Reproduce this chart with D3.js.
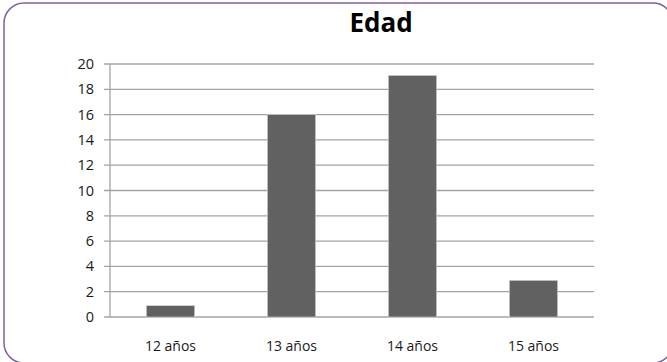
<!DOCTYPE html>
<meta charset="utf-8">
<title>Edad</title>
<script src="https://d3js.org/d3.v7.min.js"></script>
<style>
body { margin: 0; background: #fff; }
text { font-family: "Open Sans", "Noto Sans", sans-serif; fill: #1a1a1a; }
</style>
<body>
<div id="chart"></div>
<script>
// data
var categories = ["12 años", "13 años", "14 años", "15 años"];
var values = [0.9, 16, 19.1, 2.9];
var yTicks = [0, 2, 4, 6, 8, 10, 12, 14, 16, 18, 20];

var W = 667, H = 362;
var margin = {top: 64, right: 73, bottom: 45, left: 110},
    width = W - margin.left - margin.right,
    height = H - margin.top - margin.bottom;

var root = d3.select("#chart").append("svg")
    .attr("width", W)
    .attr("height", H);

// rounded frame, cut off at right and bottom
root.append("rect")
  .attr("x", 4).attr("y", 3)
  .attr("width", 669).attr("height", 360)
  .attr("rx", 20).attr("ry", 20)
  .attr("fill", "none")
  .attr("stroke", "#7d62a0")
  .attr("stroke-width", 1.5);

root.append("text")
  .attr("x", 381).attr("y", 32)
  .attr("text-anchor", "middle")
  .style("font-size", "26px")
  .style("font-weight", "bold")
  .style("fill", "#000")
  .text("Edad");

var svg = root.append("g")
  .attr("transform", "translate(" + margin.left + "," + margin.top + ")");

var x = d3.scaleBand()
  .domain(categories)
  .range([0, width])
  .paddingInner(0.6)
  .paddingOuter(0.3);

var y = d3.scaleLinear()
  .domain([0, 20])
  .range([height, 0]);

// gridlines
svg.append("g")
  .selectAll("line")
  .data(yTicks)
  .enter()
  .append("line")
    .attr("x1", -6).attr("x2", width)
    .attr("y1", function(d) { return y(d); })
    .attr("y2", function(d) { return y(d); })
    .attr("stroke", "#a3a3a3")
    .attr("stroke-width", 1.3);

// y axis line
svg.append("line")
  .attr("x1", 0).attr("x2", 0)
  .attr("y1", 0).attr("y2", height)
  .attr("stroke", "#a3a3a3")
  .attr("stroke-width", 1.3);

// y labels
svg.append("g")
  .selectAll("text")
  .data(yTicks)
  .enter()
  .append("text")
    .attr("x", -16)
    .attr("y", function(d) { return y(d); })
    .attr("dy", "0.35em")
    .attr("text-anchor", "end")
    .style("font-size", "14.5px")
    .text(function(d) { return d; });

// bars
svg.append("g")
  .selectAll("rect")
  .data(values)
  .enter()
  .append("rect")
    .attr("x", function(d, i) { return x(categories[i]); })
    .attr("y", function(d) { return y(d); })
    .attr("width", x.bandwidth())
    .attr("height", function(d) { return height - y(d); })
    .attr("fill", "#616161")
    .attr("stroke", "#d9d9d9")
    .attr("stroke-width", 0.6);

// x labels
svg.append("g")
  .selectAll("text")
  .data(categories)
  .enter()
  .append("text")
    .attr("x", function(d) { return x(d) + x.bandwidth() / 2; })
    .attr("y", height + 34)
    .attr("text-anchor", "middle")
    .style("font-size", "14px")
    .text(function(d) { return d; });
</script>
</body>
